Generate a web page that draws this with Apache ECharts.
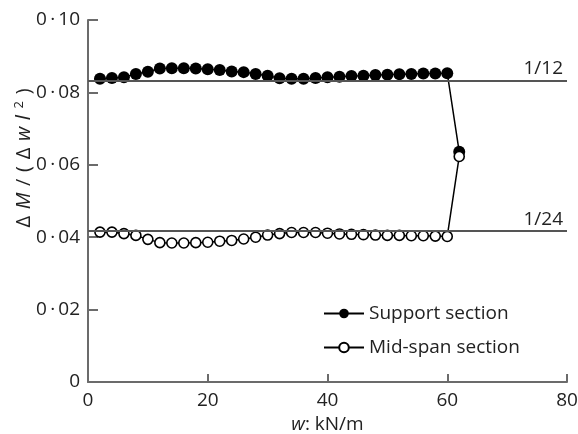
<!DOCTYPE html>
<html>
<head>
<meta charset="utf-8">
<script src="https://cdn.jsdelivr.net/npm/echarts@6/dist/echarts.min.js"></script>
<style>
  html, body { margin: 0; padding: 0; background: #fff; }
  #chart { width: 578px; height: 434px; }
</style>
</head>
<body>
<div id="chart"></div>
<script>
// load w (kN/m)
const wValues = [2, 4, 6, 8, 10, 12, 14, 16, 18, 20, 22, 24, 26, 28, 30,
                 32, 34, 36, 38, 40, 42, 44, 46, 48, 50, 52, 54, 56, 58, 60, 62];

// support section dM/(dw l^2)
const supportValues = [0.0838, 0.0840, 0.0842, 0.0851, 0.0857, 0.0866, 0.0867, 0.0867, 0.0866, 0.0864,
                       0.0862, 0.0858, 0.0856, 0.0851, 0.0846, 0.0839, 0.0838, 0.0838, 0.0840, 0.0842,
                       0.0843, 0.0845, 0.0846, 0.0848, 0.0849, 0.0850, 0.0851, 0.0852, 0.0852, 0.0853, 0.0636];

// mid-span section
const midspanValues = [0.0414, 0.0414, 0.0410, 0.0405, 0.0394, 0.0385, 0.0384, 0.0384, 0.0385, 0.0386,
                       0.0389, 0.0391, 0.0395, 0.0400, 0.0406, 0.0410, 0.0413, 0.0413, 0.0413, 0.0411,
                       0.0409, 0.0408, 0.0407, 0.0406, 0.0405, 0.0405, 0.0404, 0.0404, 0.0403, 0.0402, 0.0623];

const yTicks = ['0', '0\u2009·\u200902', '0\u2009·\u200904', '0\u2009·\u200906', '0\u2009·\u200908', '0\u2009·\u200910'];
const refLines = [{ value: 1 / 12, label: '1/12' }, { value: 1 / 24, label: '1/24' }];

const font = '"Open Sans", sans-serif';
const fs = 19;
const txt = '#222';
const axisColor = '#6b6b6b';
const sp = '\u2004';

var chart = echarts.init(document.getElementById('chart'));

var option = {
    animation: false,
    textStyle: { fontFamily: font },
    grid: { left: 88, right: 11, top: 20, bottom: 52, outerBoundsMode: 'none', containLabel: false },
    xAxis: {
        type: 'value',
        min: 0, max: 80, interval: 20,
        splitLine: { show: false },
        axisLine: { lineStyle: { color: axisColor, width: 2 } },
        axisTick: { inside: true, length: 8, lineStyle: { color: axisColor, width: 2 } },
        axisLabel: { color: txt, fontSize: fs, fontFamily: font, margin: 9 },
        name: '{i|w}: kN/m',
        nameLocation: 'middle',
        nameGap: 31,
        nameTextStyle: {
            color: txt, fontSize: fs, fontFamily: font,
            rich: { i: { fontStyle: 'italic', fontSize: fs, fontFamily: font, color: txt } }
        }
    },
    yAxis: {
        type: 'value',
        min: 0, max: 0.1, interval: 0.02,
        splitLine: { show: false },
        axisLine: { lineStyle: { color: axisColor, width: 2 } },
        axisTick: { inside: true, length: 10, lineStyle: { color: axisColor, width: 2 } },
        axisLabel: {
            color: txt, fontSize: fs, fontFamily: font, margin: 8,
            formatter: function (v) { return yTicks[Math.round(v / 0.02)]; }
        }
    },
    graphic: [{
        type: 'text',
        x: 24, y: 158,
        rotation: Math.PI / 2,
        style: {
            text: 'Δ' + sp + '{i|M}' + sp + '/' + sp + '(' + sp + 'Δ' + sp + '{i|w}' + sp + '{i|l}' + sp + '{s|2}' + sp + ')',
            font: '20px ' + font,
            fill: txt,
            align: 'center',
            verticalAlign: 'middle',
            rich: {
                i: { fontStyle: 'italic', fontSize: 20, fontFamily: font, fill: txt },
                s: { fontSize: 13, fontFamily: font, verticalAlign: 'top', padding: [0, 0, 9, 0], fill: txt }
            }
        }
    }],
    legend: {
        orient: 'vertical',
        left: 318, top: 299,
        itemWidth: 40, itemHeight: 12,
        itemGap: 15,
        textStyle: { fontSize: fs, fontFamily: font, color: txt },
        data: ['Support section', 'Mid-span section']
    },
    series: [
        {
            name: 'Support section',
            type: 'line',
            data: wValues.map((w, i) => [w, supportValues[i]]),
            symbol: 'circle',
            symbolSize: 12,
            itemStyle: { color: '#000' },
            lineStyle: { color: '#000', width: 1.5 },
            z: 3,
            markLine: {
                silent: true,
                precision: 6,
                symbol: 'none',
                lineStyle: { color: '#555', width: 2, type: 'solid' },
                label: {
                    position: 'insideEndTop',
                    color: txt, fontSize: fs, fontFamily: font,
                    distance: [4, 2],
                    formatter: function (p) { return p.name; }
                },
                data: refLines.map(r => ({ yAxis: r.value, name: r.label }))
            }
        },
        {
            name: 'Mid-span section',
            type: 'line',
            data: wValues.map((w, i) => [w, midspanValues[i]]),
            symbol: 'circle',
            symbolSize: 10,
            itemStyle: { color: '#fff', borderColor: '#000', borderWidth: 1.6 },
            lineStyle: { color: '#000', width: 1.5 },
            z: 4
        }
    ]
};

chart.setOption(option);
window.addEventListener('resize', chart.resize);
</script>
</body>
</html>
